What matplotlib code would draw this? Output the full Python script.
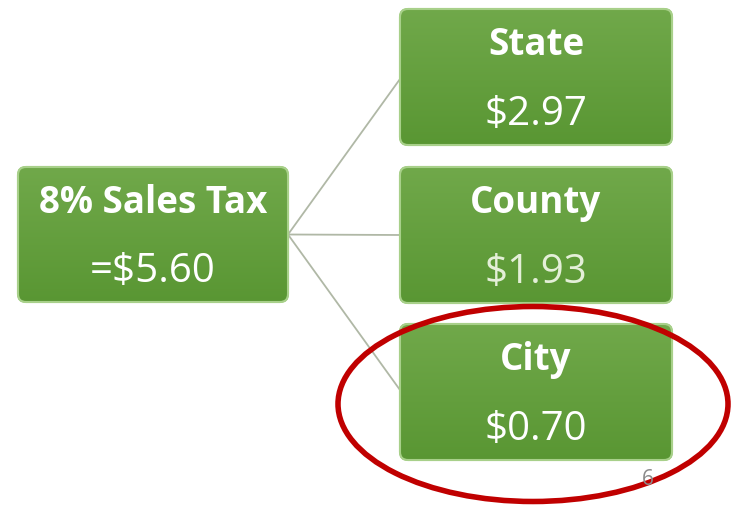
import numpy as np
import matplotlib.pyplot as plt
from matplotlib.patches import FancyBboxPatch, Ellipse

# dados do diagrama
total_label = '8% Sales Tax'
total_value = '=$5.60'
parts = ['State', 'County', 'City']
part_values = ['$2.97', '$1.93', '$0.70']
page_number = '6'

W, H = 732, 506
fig = plt.figure(figsize=(W / 100, H / 100), dpi=100)
ax = fig.add_axes([0, 0, 1, 1])
ax.set_xlim(0, W)
ax.set_ylim(H, 0)
ax.axis('off')

font = 'Open Sans'
grad = np.linspace(0, 1, 64).reshape(-1, 1)
top = np.array([0.44, 0.66, 0.29])
bot = np.array([0.35, 0.59, 0.20])
img = top[None, None, :] * (1 - grad[:, :, None]) + bot[None, None, :] * grad[:, :, None]


def caixa(x, y, w, h, titulo, valor, cor_valor='white'):
    p = FancyBboxPatch((x, y), w, h, boxstyle='round,pad=0,rounding_size=8',
                       facecolor='#5E9A35', edgecolor='#A8D08A', linewidth=1.5, zorder=2)
    ax.add_patch(p)
    im = ax.imshow(img, extent=(x, x + w, y + h, y), aspect='auto', zorder=3)
    im.set_clip_path(p)
    ax.add_patch(FancyBboxPatch((x, y), w, h, boxstyle='round,pad=0,rounding_size=8',
                                facecolor='none', edgecolor='#A8D08A', linewidth=1.5, zorder=4))
    ax.text(x + w / 2, y + h * 0.26, titulo, ha='center', va='center', color='white',
            fontsize=26.5, fontweight='bold', family=font, zorder=5)
    ax.text(x + w / 2, y + h * 0.77, valor, ha='center', va='center', color=cor_valor,
            fontsize=29, family=font, zorder=5)


# caixa principal
lx, ly, lw, lh = 18, 168, 270, 135
caixa(lx, ly, lw, lh, total_label, total_value)

# caixas da direita
rx, rw, rh = 400, 272, 136
ys = [10, 168, 325]
cores = ['white', '#E4EFD8', 'white']
for yy, nome, val, c in zip(ys, parts, part_values, cores):
    ax.plot([lx + lw, rx], [ly + lh / 2, yy + rh / 2 if nome == 'County' else (yy + 70 if nome == 'State' else yy + 66)],
            color='#B0B8A6', linewidth=1.3, zorder=1)
    caixa(rx, yy, rw, rh, nome, val, c)

# elipse vermelha em volta de City
ax.add_patch(Ellipse((533, 405), 390, 195, facecolor='none', edgecolor='#C00000',
                     linewidth=4, zorder=6))

ax.text(648, 480, page_number, ha='center', va='center', color='#8C8C8C',
        fontsize=15, family=font, zorder=7)

plt.savefig('out.png', dpi=100)
